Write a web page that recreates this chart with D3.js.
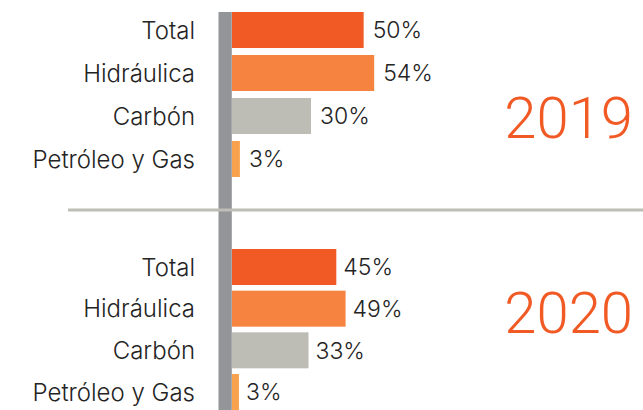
<!DOCTYPE html>
<html>
<head>
<meta charset="utf-8">
<script src="https://cdn.jsdelivr.net/npm/d3@7"></script>
<style>
  html, body { margin: 0; padding: 0; background: #fff; }
  svg { display: block; }
</style>
</head>
<body>
<svg id="chart" width="643" height="410"></svg>
<script>
// ---- data ----
const categories = ["Total", "Hidráulica", "Carbón", "Petróleo y Gas"];
const years = ["2019", "2020"];
const values2019 = [50, 54, 30, 3];
const values2020 = [45, 49, 33, 3];
const valueLabels2019 = ["50%", "54%", "30%", "3%"];
const valueLabels2020 = ["45%", "49%", "33%", "3%"];

// ---- styles / layout ----
const colors = ["#F15A24", "#F6833F", "#BDBDB6", "#F9A24E"];
const textColor = "#242424";
const accent = "#F15A24";
const W = 643, H = 410;
const x0 = 232;

const panels = [
  { year: years[0], values: values2019, labels: valueLabels2019, yRange: [12, 177], pad: 0.163, xMax: 263.3, gap: 9, yearBaseline: 138 },
  { year: years[1], values: values2020, labels: valueLabels2020, yRange: [249, 410], pad: 0.136, xMax: 231.8, gap: 7, yearBaseline: 333 }
];

const svg = d3.select("#chart");
const font = "Inter, Roboto, 'Liberation Sans', sans-serif";
const yearFont = "Roboto, 'Liberation Sans', sans-serif";

panels.forEach(p => {
  const x = d3.scaleLinear().domain([0, 100]).range([x0, x0 + p.xMax]);
  const y = d3.scaleBand().domain(categories).range(p.yRange).paddingInner(p.pad).paddingOuter(0);
  const data = categories.map((c, i) => ({ c, v: p.values[i], label: p.labels[i], color: colors[i] }));
  const g = svg.append("g");

  g.selectAll("rect.bar").data(data).join("rect")
    .attr("class", "bar")
    .attr("x", x(0))
    .attr("y", d => y(d.c))
    .attr("width", d => x(d.v) - x(0))
    .attr("height", y.bandwidth())
    .attr("fill", d => d.color);

  g.selectAll("text.val").data(data).join("text")
    .attr("class", "val")
    .attr("x", d => x(d.v) + p.gap)
    .attr("y", d => y(d.c) + y.bandwidth() / 2)
    .attr("dy", "0.36em")
    .attr("font-family", font)
    .attr("font-weight", 350)
    .attr("font-size", 23)
    .attr("fill", textColor)
    .text(d => d.label);

  // category axis labels
  const axis = d3.axisLeft(y).tickSize(0).tickPadding(0);
  const ag = g.append("g").attr("transform", "translate(195,0)").call(axis);
  ag.select(".domain").remove();
  ag.selectAll("text")
    .attr("font-family", font)
    .attr("font-weight", 350)
    .attr("font-size", 24)
    .attr("fill", textColor)
    .attr("dy", "0.36em");

  g.append("text")
    .attr("x", 633)
    .attr("y", p.yearBaseline)
    .attr("text-anchor", "end")
    .attr("font-family", yearFont)
    .attr("font-weight", 300)
    .attr("font-size", 58)
    .attr("fill", accent)
    .text(p.year);
});

// vertical grey axis bar
svg.append("rect")
  .attr("x", 218.5).attr("y", 12)
  .attr("width", 13.3).attr("height", H - 12)
  .attr("fill", "#939598");

// separator
svg.append("rect")
  .attr("x", 68).attr("y", 208.5)
  .attr("width", W - 68).attr("height", 3)
  .attr("fill", "#BEBEB6");
</script>
</body>
</html>
